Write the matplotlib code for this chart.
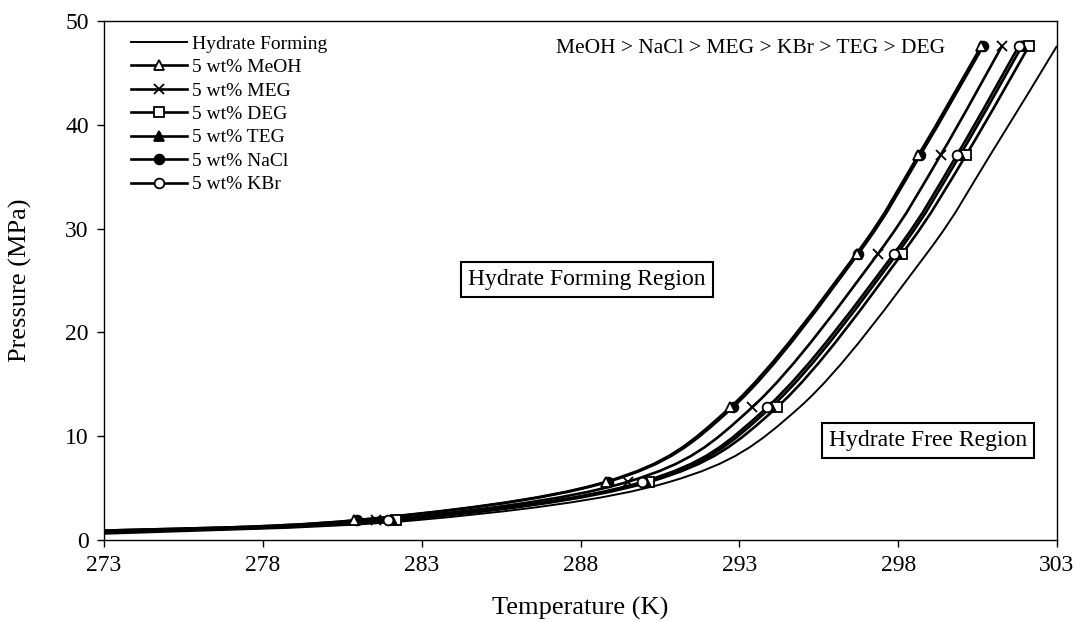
import numpy as np
import matplotlib.pyplot as plt
from matplotlib.path import Path
from matplotlib.patches import PathPatch
from matplotlib.lines import Line2D

plt.rcParams['font.family'] = ['Liberation Serif', 'DejaVu Serif']

# pressures of the measured points (MPa)
p_pts = [1.9, 5.6, 12.8, 27.6, 37.1, 47.6]

# hydrate forming curve (no inhibitor), no markers
t_hyd = [273.0, 282.8, 290.8, 294.9, 298.9, 300.9, 303.0]
p_hyd = [0.6, 1.9, 5.6, 12.8, 27.6, 37.1, 47.6]

# inhibitor curves: T at each pressure in p_pts, plus pressure at 273 K
t_meoh = [280.88, 288.79, 292.72, 296.69, 298.64, 300.62]
t_meg  = [281.55, 289.48, 293.41, 297.37, 299.34, 301.27]
t_deg  = [282.20, 290.17, 294.19, 298.13, 300.14, 302.12]
t_teg  = [282.05, 290.05, 294.00, 297.97, 299.95, 301.90]
t_nacl = [280.95, 288.85, 292.80, 296.75, 298.70, 300.68]
t_kbr  = [281.95, 289.95, 293.88, 297.87, 299.85, 301.80]
p0_inh = [0.9, 0.85, 0.75, 0.75, 0.9, 0.75]   # MeOH, MEG, DEG, TEG, NaCl, KBr at 273 K

labels = ['5 wt% MeOH', '5 wt% MEG', '5 wt% DEG', '5 wt% TEG', '5 wt% NaCl', '5 wt% KBr']
temps = [t_meoh, t_meg, t_deg, t_teg, t_nacl, t_kbr]
markers = ['^', 'x', 's', '^', 'o', 'o']
filled = [False, False, False, True, True, False]
zorders = [4, 3, 3, 3, 3, 3]


def smooth_path(x, y):
    # Excel-like smoothed line (Catmull-Rom as cubic Bezier)
    pts = np.column_stack([x, y])
    n = len(pts)
    verts = [pts[0]]
    codes = [Path.MOVETO]
    for i in range(n - 1):
        p0 = pts[i - 1] if i > 0 else pts[i]
        p1 = pts[i]
        p2 = pts[i + 1]
        p3 = pts[i + 2] if i + 2 < n else pts[i + 1]
        c1 = p1 + (p2 - p0) / 6.0
        c2 = p2 - (p3 - p1) / 6.0
        verts += [c1, c2, p2]
        codes += [Path.CURVE4] * 3
    return Path(verts, codes)


fig = plt.figure(figsize=(10.77, 6.22), dpi=100)
ax = fig.add_axes([0.0966, 0.1318, 0.8848, 0.8344])

ax.add_patch(PathPatch(smooth_path(t_hyd, p_hyd), fill=False, lw=1.4, ec='black', zorder=2))
handles = [Line2D([], [], color='black', lw=1.4)]

for lab, t, m, f, p0, z in zip(labels, temps, markers, filled, p0_inh, zorders):
    ax.add_patch(PathPatch(smooth_path([273.0] + t, [p0] + p_pts),
                           fill=False, lw=1.9, ec='black', zorder=2))
    fc = 'black' if f else 'white'
    ms = 7 if m == 'o' else 7.5
    ax.plot(t, p_pts, ls='none', marker=m, ms=ms, mfc=fc, mec='black',
            mew=1.3, zorder=z)
    handles.append(Line2D([], [], color='black', lw=1.9, marker=m, ms=ms,
                          mfc=fc, mec='black', mew=1.3))

ax.set_xlim(273, 303)
ax.set_ylim(0, 50)
ax.set_xticks(np.arange(273, 304, 5))
ax.set_yticks(np.arange(0, 51, 10))
ax.tick_params(direction='out', length=5, width=1, labelsize=17, pad=6)
for s in ax.spines.values():
    s.set_linewidth(1.0)

ax.set_xlabel('Temperature (K)', fontsize=19, labelpad=15)
ax.set_ylabel('Pressure (MPa)', fontsize=19, labelpad=24)

leg = ax.legend(handles, ['Hydrate Forming'] + labels, loc='upper left',
                bbox_to_anchor=(0.02, 0.988), frameon=False, fontsize=14,
                handlelength=2.9, handletextpad=0.25, labelspacing=0.3,
                borderaxespad=0)

ax.text(0.8825, 0.948, 'MeOH > NaCl > MEG > KBr > TEG > DEG', transform=ax.transAxes,
        ha='right', va='center', fontsize=15.5)

box = dict(boxstyle='square,pad=0.3', fc='white', ec='black', lw=1.5)
ax.text(288.2, 25.1, 'Hydrate Forming Region', ha='center', va='center',
        fontsize=17, bbox=box)
ax.text(298.95, 9.6, 'Hydrate Free Region', ha='center', va='center',
        fontsize=17, bbox=box)

fig.savefig('out.png', dpi=100)
